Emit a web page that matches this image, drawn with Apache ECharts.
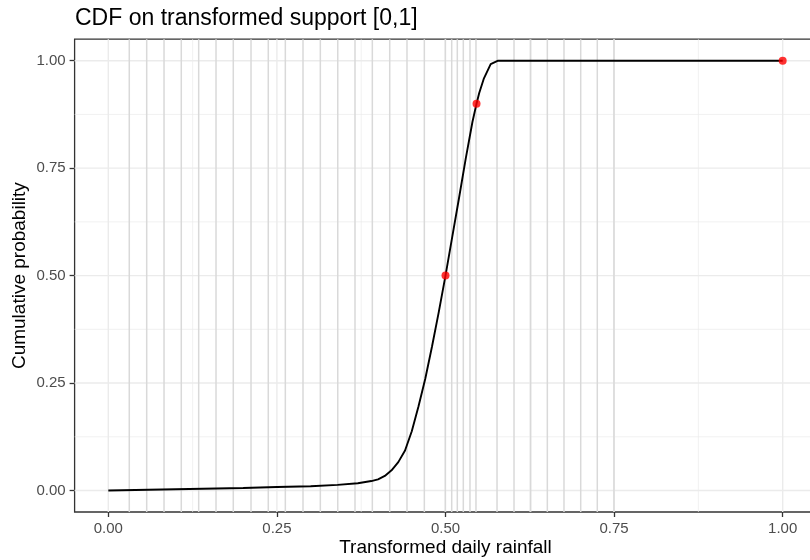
<!DOCTYPE html>
<html>
<head>
<meta charset="utf-8">
<script src="https://cdn.jsdelivr.net/npm/echarts@6/dist/echarts.min.js"></script>
<style>html,body{margin:0;padding:0;background:#fff}#c{width:810px;height:560px}</style>
</head>
<body>
<div id="c"></div>
<script>
// CDF curve (transformed support, cumulative probability)
const cdfX = [0, 0.1, 0.2, 0.25, 0.3, 0.34, 0.37, 0.39, 0.40, 0.41, 0.42, 0.43, 0.44, 0.45, 0.46, 0.47, 0.48, 0.49, 0.50, 0.51, 0.52, 0.53, 0.54, 0.546, 0.55, 0.557, 0.567, 0.578, 1.0];
const cdfY = [0, 0.003, 0.006, 0.008, 0.010, 0.013, 0.017, 0.022, 0.026, 0.034, 0.047, 0.066, 0.093, 0.138, 0.196, 0.26, 0.335, 0.415, 0.50, 0.59, 0.68, 0.772, 0.858, 0.90, 0.925, 0.959, 0.992, 1.0, 1.0];
// highlighted points
const ptX = [0.5, 0.546, 1.0];
const ptY = [0.5, 0.9, 1.0];
// vertical reference lines
const vlines = [0.0311, 0.0569, 0.0826, 0.1082, 0.1340, 0.1597, 0.1853, 0.2116, 0.2372, 0.2625, 0.2887, 0.3144, 0.3402, 0.3658, 0.3915, 0.4173, 0.4429, 0.4686, 0.4997, 0.5092, 0.5175, 0.5264, 0.5363, 0.5452, 0.5764, 0.6016, 0.6263, 0.6510, 0.6757, 0.7005, 0.7251, 0.7498];
// ticks
const majorTicks = [0, 0.25, 0.5, 0.75, 1];
const minorTicks = [0.125, 0.375, 0.625, 0.875];

const FONT = "'Liberation Sans', Arial, sans-serif";
const chart = echarts.init(document.getElementById('c'), null, {renderer: 'canvas'});

// grid/reference lines drawn through the axis scales
function lineSeries(dir, vals, color, width, z) {
  return {
    type: 'custom', silent: true, animation: false, z: z, clip: false,
    data: vals.map(v => [v]),
    renderItem: function (params, api) {
      const cs = params.coordSys;
      const v = api.value(0);
      if (dir === 'v') {
        const x = api.coord([v, 0])[0];
        return {type: 'line', shape: {x1: x, y1: cs.y, x2: x, y2: cs.y + cs.height},
          style: {stroke: color, lineWidth: width}};
      } else {
        const y = api.coord([0, v])[1];
        return {type: 'line', shape: {x1: cs.x, y1: y, x2: cs.x + cs.width, y2: y},
          style: {stroke: color, lineWidth: width}};
      }
    }
  };
}

const option = {
  animation: false,
  backgroundColor: '#ffffff',
  title: {
    text: 'CDF on transformed support [0,1]',
    left: 75, top: 7, padding: 0,
    textStyle: {fontFamily: FONT, fontSize: 23, fontWeight: 'normal', color: '#000'}
  },
  grid: {
    left: 74.6, top: 39.2, width: 741.8, height: 472.8,
    outerBoundsMode: 'none',
    show: true, backgroundColor: '#fff', borderColor: '#333', borderWidth: 1.3,
    containLabel: false
  },
  xAxis: {
    type: 'value', min: -0.05, max: 1.05,
    name: 'Transformed daily rainfall', nameLocation: 'middle', nameGap: 26, nameMoveOverlap: false,
    nameTextStyle: {fontFamily: FONT, fontSize: 19, color: '#000'},
    axisLine: {show: false, onZero: false},
    axisTick: {show: true, customValues: majorTicks, length: 5, lineStyle: {color: '#333', width: 1.3}},
    axisLabel: {customValues: majorTicks, formatter: v => v.toFixed(2), margin: 9,
      fontFamily: FONT, fontSize: 15, color: '#4d4d4d'},
    splitLine: {show: false}
  },
  yAxis: {
    type: 'value', min: -0.05, max: 1.05,
    name: 'Cumulative probability', nameLocation: 'middle', nameGap: 45, nameMoveOverlap: false,
    nameTextStyle: {fontFamily: FONT, fontSize: 19, color: '#000'},
    axisLine: {show: false, onZero: false},
    axisTick: {show: true, customValues: majorTicks, length: 5, lineStyle: {color: '#333', width: 1.3}},
    axisLabel: {customValues: majorTicks, formatter: v => v.toFixed(2), margin: 9,
      fontFamily: FONT, fontSize: 15, color: '#4d4d4d'},
    splitLine: {show: false}
  },
  series: [
    lineSeries('v', minorTicks, '#ebebeb', 0.7, 1),
    lineSeries('h', minorTicks, '#ebebeb', 0.7, 1),
    lineSeries('v', majorTicks, '#ebebeb', 1.4, 1),
    lineSeries('h', majorTicks, '#ebebeb', 1.4, 1),
    lineSeries('v', vlines, '#d9d9d9', 1.5, 2),
    {
      type: 'line', z: 6, symbol: 'none', smooth: false, silent: true,
      lineStyle: {color: '#000', width: 1.9},
      data: cdfX.map((x, i) => [x, cdfY[i]])
    },
    {
      type: 'scatter', z: 7, symbol: 'circle', symbolSize: 8, silent: true,
      itemStyle: {color: '#ff0000'},
      data: ptX.map((x, i) => [x, ptY[i]])
    }
  ]
};
chart.setOption(option);
</script>
</body>
</html>
